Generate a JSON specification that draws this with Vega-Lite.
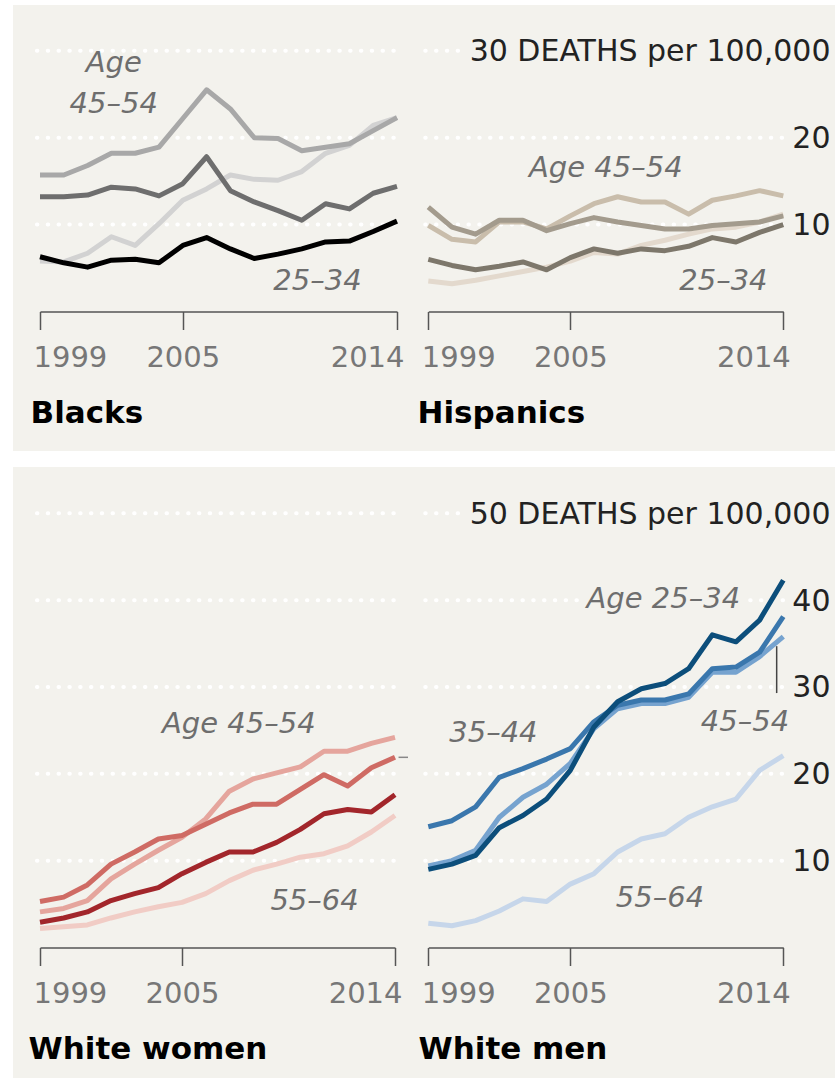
{
"$schema":"https://vega.github.io/schema/vega-lite/v6.json",
"background":"white",
"padding":{"left":13,"top":5,"right":0,"bottom":0},
"config":{
 "view":{"fill":"#f3f2ed","stroke":null},
 "axis":{"domainColor":"#555","domainWidth":1.5,"tickColor":"#555","tickWidth":1.5,"grid":false,"labelFont":"DejaVu Sans","labelFontSize":29,"labelColor":"#777","titleFont":"DejaVu Sans","titleFontSize":31,"titleFontWeight":"bold","titleColor":"#000"},
 "axisX":{"tickSize":18,"labelPadding":37,"labelBaseline":"alphabetic","labelFlush":true,"labelFlushOffset":7,"labelAngle":0,"titleAnchor":"start","titleAlign":"left","titleBaseline":"alphabetic","titleY":111},
 "axisY":{"domain":false,"ticks":false,"tickSize":0,"labelAlign":"right","labelBaseline":"alphabetic","labelOffset":10,"labelColor":"#222","labelFontSize":30,"labelPadding":0,"labelLimit":0,"offset":-5,"title":null},
 "text":{"font":"DejaVu Sans","fontStyle":"italic","fontSize":29,"fill":"#6e6e6e","align":"center","baseline":"alphabetic"}
},
"datasets":{
"lines":[
{"p":"B","a":"55–64","x":1999,"v":5.8},{"p":"B","a":"55–64","x":2000,"v":5.7},{"p":"B","a":"55–64","x":2001,"v":6.7},{"p":"B","a":"55–64","x":2002,"v":8.6},{"p":"B","a":"55–64","x":2003,"v":7.6},{"p":"B","a":"55–64","x":2004,"v":10.1},{"p":"B","a":"55–64","x":2005,"v":12.8},{"p":"B","a":"55–64","x":2006,"v":14.1},{"p":"B","a":"55–64","x":2007,"v":15.7},{"p":"B","a":"55–64","x":2008,"v":15.2},{"p":"B","a":"55–64","x":2009,"v":15.1},{"p":"B","a":"55–64","x":2010,"v":16.1},{"p":"B","a":"55–64","x":2011,"v":18.2},{"p":"B","a":"55–64","x":2012,"v":19.1},{"p":"B","a":"55–64","x":2013,"v":21.4},{"p":"B","a":"55–64","x":2014,"v":22.3},
{"p":"B","a":"45–54","x":1999,"v":15.7},{"p":"B","a":"45–54","x":2000,"v":15.7},{"p":"B","a":"45–54","x":2001,"v":16.8},{"p":"B","a":"45–54","x":2002,"v":18.2},{"p":"B","a":"45–54","x":2003,"v":18.2},{"p":"B","a":"45–54","x":2004,"v":18.9},{"p":"B","a":"45–54","x":2005,"v":22.2},{"p":"B","a":"45–54","x":2006,"v":25.5},{"p":"B","a":"45–54","x":2007,"v":23.3},{"p":"B","a":"45–54","x":2008,"v":20.0},{"p":"B","a":"45–54","x":2009,"v":19.9},{"p":"B","a":"45–54","x":2010,"v":18.5},{"p":"B","a":"45–54","x":2011,"v":18.9},{"p":"B","a":"45–54","x":2012,"v":19.3},{"p":"B","a":"45–54","x":2013,"v":20.8},{"p":"B","a":"45–54","x":2014,"v":22.3},
{"p":"B","a":"35–44","x":1999,"v":13.2},{"p":"B","a":"35–44","x":2000,"v":13.2},{"p":"B","a":"35–44","x":2001,"v":13.4},{"p":"B","a":"35–44","x":2002,"v":14.3},{"p":"B","a":"35–44","x":2003,"v":14.1},{"p":"B","a":"35–44","x":2004,"v":13.3},{"p":"B","a":"35–44","x":2005,"v":14.7},{"p":"B","a":"35–44","x":2006,"v":17.8},{"p":"B","a":"35–44","x":2007,"v":13.9},{"p":"B","a":"35–44","x":2008,"v":12.6},{"p":"B","a":"35–44","x":2009,"v":11.6},{"p":"B","a":"35–44","x":2010,"v":10.5},{"p":"B","a":"35–44","x":2011,"v":12.4},{"p":"B","a":"35–44","x":2012,"v":11.8},{"p":"B","a":"35–44","x":2013,"v":13.6},{"p":"B","a":"35–44","x":2014,"v":14.4},
{"p":"B","a":"25–34","x":1999,"v":6.3},{"p":"B","a":"25–34","x":2000,"v":5.6},{"p":"B","a":"25–34","x":2001,"v":5.1},{"p":"B","a":"25–34","x":2002,"v":5.9},{"p":"B","a":"25–34","x":2003,"v":6.0},{"p":"B","a":"25–34","x":2004,"v":5.6},{"p":"B","a":"25–34","x":2005,"v":7.6},{"p":"B","a":"25–34","x":2006,"v":8.5},{"p":"B","a":"25–34","x":2007,"v":7.2},{"p":"B","a":"25–34","x":2008,"v":6.1},{"p":"B","a":"25–34","x":2009,"v":6.6},{"p":"B","a":"25–34","x":2010,"v":7.2},{"p":"B","a":"25–34","x":2011,"v":8.0},{"p":"B","a":"25–34","x":2012,"v":8.1},{"p":"B","a":"25–34","x":2013,"v":9.2},{"p":"B","a":"25–34","x":2014,"v":10.4},
{"p":"H","a":"55–64","x":1999,"v":3.5},{"p":"H","a":"55–64","x":2000,"v":3.2},{"p":"H","a":"55–64","x":2001,"v":3.6},{"p":"H","a":"55–64","x":2002,"v":4.1},{"p":"H","a":"55–64","x":2003,"v":4.6},{"p":"H","a":"55–64","x":2004,"v":5.1},{"p":"H","a":"55–64","x":2005,"v":5.8},{"p":"H","a":"55–64","x":2006,"v":6.8},{"p":"H","a":"55–64","x":2007,"v":6.6},{"p":"H","a":"55–64","x":2008,"v":7.6},{"p":"H","a":"55–64","x":2009,"v":8.2},{"p":"H","a":"55–64","x":2010,"v":8.9},{"p":"H","a":"55–64","x":2011,"v":9.5},{"p":"H","a":"55–64","x":2012,"v":9.7},{"p":"H","a":"55–64","x":2013,"v":10.3},{"p":"H","a":"55–64","x":2014,"v":11.2},
{"p":"H","a":"45–54","x":1999,"v":9.9},{"p":"H","a":"45–54","x":2000,"v":8.3},{"p":"H","a":"45–54","x":2001,"v":8.0},{"p":"H","a":"45–54","x":2002,"v":10.3},{"p":"H","a":"45–54","x":2003,"v":10.3},{"p":"H","a":"45–54","x":2004,"v":9.5},{"p":"H","a":"45–54","x":2005,"v":11.0},{"p":"H","a":"45–54","x":2006,"v":12.4},{"p":"H","a":"45–54","x":2007,"v":13.2},{"p":"H","a":"45–54","x":2008,"v":12.6},{"p":"H","a":"45–54","x":2009,"v":12.6},{"p":"H","a":"45–54","x":2010,"v":11.2},{"p":"H","a":"45–54","x":2011,"v":12.8},{"p":"H","a":"45–54","x":2012,"v":13.3},{"p":"H","a":"45–54","x":2013,"v":13.9},{"p":"H","a":"45–54","x":2014,"v":13.3},
{"p":"H","a":"35–44","x":1999,"v":12.0},{"p":"H","a":"35–44","x":2000,"v":9.7},{"p":"H","a":"35–44","x":2001,"v":8.9},{"p":"H","a":"35–44","x":2002,"v":10.5},{"p":"H","a":"35–44","x":2003,"v":10.5},{"p":"H","a":"35–44","x":2004,"v":9.3},{"p":"H","a":"35–44","x":2005,"v":10.1},{"p":"H","a":"35–44","x":2006,"v":10.8},{"p":"H","a":"35–44","x":2007,"v":10.3},{"p":"H","a":"35–44","x":2008,"v":9.9},{"p":"H","a":"35–44","x":2009,"v":9.5},{"p":"H","a":"35–44","x":2010,"v":9.5},{"p":"H","a":"35–44","x":2011,"v":9.9},{"p":"H","a":"35–44","x":2012,"v":10.1},{"p":"H","a":"35–44","x":2013,"v":10.3},{"p":"H","a":"35–44","x":2014,"v":11.0},
{"p":"H","a":"25–34","x":1999,"v":6.0},{"p":"H","a":"25–34","x":2000,"v":5.3},{"p":"H","a":"25–34","x":2001,"v":4.8},{"p":"H","a":"25–34","x":2002,"v":5.2},{"p":"H","a":"25–34","x":2003,"v":5.7},{"p":"H","a":"25–34","x":2004,"v":4.8},{"p":"H","a":"25–34","x":2005,"v":6.2},{"p":"H","a":"25–34","x":2006,"v":7.2},{"p":"H","a":"25–34","x":2007,"v":6.7},{"p":"H","a":"25–34","x":2008,"v":7.2},{"p":"H","a":"25–34","x":2009,"v":7.0},{"p":"H","a":"25–34","x":2010,"v":7.5},{"p":"H","a":"25–34","x":2011,"v":8.5},{"p":"H","a":"25–34","x":2012,"v":8.0},{"p":"H","a":"25–34","x":2013,"v":9.1},{"p":"H","a":"25–34","x":2014,"v":10.0},
{"p":"WW","a":"55–64","x":1999,"v":2.2},{"p":"WW","a":"55–64","x":2000,"v":2.4},{"p":"WW","a":"55–64","x":2001,"v":2.6},{"p":"WW","a":"55–64","x":2002,"v":3.4},{"p":"WW","a":"55–64","x":2003,"v":4.1},{"p":"WW","a":"55–64","x":2004,"v":4.7},{"p":"WW","a":"55–64","x":2005,"v":5.2},{"p":"WW","a":"55–64","x":2006,"v":6.2},{"p":"WW","a":"55–64","x":2007,"v":7.7},{"p":"WW","a":"55–64","x":2008,"v":8.9},{"p":"WW","a":"55–64","x":2009,"v":9.6},{"p":"WW","a":"55–64","x":2010,"v":10.4},{"p":"WW","a":"55–64","x":2011,"v":10.8},{"p":"WW","a":"55–64","x":2012,"v":11.7},{"p":"WW","a":"55–64","x":2013,"v":13.3},{"p":"WW","a":"55–64","x":2014,"v":15.2},
{"p":"WW","a":"45–54","x":1999,"v":4.1},{"p":"WW","a":"45–54","x":2000,"v":4.5},{"p":"WW","a":"45–54","x":2001,"v":5.4},{"p":"WW","a":"45–54","x":2002,"v":7.9},{"p":"WW","a":"45–54","x":2003,"v":9.6},{"p":"WW","a":"45–54","x":2004,"v":11.2},{"p":"WW","a":"45–54","x":2005,"v":12.7},{"p":"WW","a":"45–54","x":2006,"v":14.8},{"p":"WW","a":"45–54","x":2007,"v":18.0},{"p":"WW","a":"45–54","x":2008,"v":19.4},{"p":"WW","a":"45–54","x":2009,"v":20.1},{"p":"WW","a":"45–54","x":2010,"v":20.8},{"p":"WW","a":"45–54","x":2011,"v":22.6},{"p":"WW","a":"45–54","x":2012,"v":22.6},{"p":"WW","a":"45–54","x":2013,"v":23.5},{"p":"WW","a":"45–54","x":2014,"v":24.2},
{"p":"WW","a":"35–44","x":1999,"v":5.3},{"p":"WW","a":"35–44","x":2000,"v":5.8},{"p":"WW","a":"35–44","x":2001,"v":7.2},{"p":"WW","a":"35–44","x":2002,"v":9.6},{"p":"WW","a":"35–44","x":2003,"v":11.0},{"p":"WW","a":"35–44","x":2004,"v":12.5},{"p":"WW","a":"35–44","x":2005,"v":12.9},{"p":"WW","a":"35–44","x":2006,"v":14.2},{"p":"WW","a":"35–44","x":2007,"v":15.5},{"p":"WW","a":"35–44","x":2008,"v":16.5},{"p":"WW","a":"35–44","x":2009,"v":16.5},{"p":"WW","a":"35–44","x":2010,"v":18.2},{"p":"WW","a":"35–44","x":2011,"v":19.9},{"p":"WW","a":"35–44","x":2012,"v":18.6},{"p":"WW","a":"35–44","x":2013,"v":20.7},{"p":"WW","a":"35–44","x":2014,"v":21.9},
{"p":"WW","a":"25–34","x":1999,"v":2.9},{"p":"WW","a":"25–34","x":2000,"v":3.4},{"p":"WW","a":"25–34","x":2001,"v":4.1},{"p":"WW","a":"25–34","x":2002,"v":5.4},{"p":"WW","a":"25–34","x":2003,"v":6.2},{"p":"WW","a":"25–34","x":2004,"v":6.9},{"p":"WW","a":"25–34","x":2005,"v":8.5},{"p":"WW","a":"25–34","x":2006,"v":9.8},{"p":"WW","a":"25–34","x":2007,"v":11.0},{"p":"WW","a":"25–34","x":2008,"v":11.0},{"p":"WW","a":"25–34","x":2009,"v":12.1},{"p":"WW","a":"25–34","x":2010,"v":13.6},{"p":"WW","a":"25–34","x":2011,"v":15.4},{"p":"WW","a":"25–34","x":2012,"v":15.9},{"p":"WW","a":"25–34","x":2013,"v":15.6},{"p":"WW","a":"25–34","x":2014,"v":17.6},
{"p":"WM","a":"55–64","x":1999,"v":2.8},{"p":"WM","a":"55–64","x":2000,"v":2.5},{"p":"WM","a":"55–64","x":2001,"v":3.1},{"p":"WM","a":"55–64","x":2002,"v":4.2},{"p":"WM","a":"55–64","x":2003,"v":5.6},{"p":"WM","a":"55–64","x":2004,"v":5.3},{"p":"WM","a":"55–64","x":2005,"v":7.3},{"p":"WM","a":"55–64","x":2006,"v":8.5},{"p":"WM","a":"55–64","x":2007,"v":11.0},{"p":"WM","a":"55–64","x":2008,"v":12.5},{"p":"WM","a":"55–64","x":2009,"v":13.1},{"p":"WM","a":"55–64","x":2010,"v":15.0},{"p":"WM","a":"55–64","x":2011,"v":16.2},{"p":"WM","a":"55–64","x":2012,"v":17.1},{"p":"WM","a":"55–64","x":2013,"v":20.4},{"p":"WM","a":"55–64","x":2014,"v":22.1},
{"p":"WM","a":"45–54","x":1999,"v":9.4},{"p":"WM","a":"45–54","x":2000,"v":10.0},{"p":"WM","a":"45–54","x":2001,"v":11.2},{"p":"WM","a":"45–54","x":2002,"v":15.0},{"p":"WM","a":"45–54","x":2003,"v":17.3},{"p":"WM","a":"45–54","x":2004,"v":18.8},{"p":"WM","a":"45–54","x":2005,"v":21.2},{"p":"WM","a":"45–54","x":2006,"v":25.2},{"p":"WM","a":"45–54","x":2007,"v":27.5},{"p":"WM","a":"45–54","x":2008,"v":28.1},{"p":"WM","a":"45–54","x":2009,"v":28.1},{"p":"WM","a":"45–54","x":2010,"v":28.8},{"p":"WM","a":"45–54","x":2011,"v":31.7},{"p":"WM","a":"45–54","x":2012,"v":31.7},{"p":"WM","a":"45–54","x":2013,"v":33.5},{"p":"WM","a":"45–54","x":2014,"v":35.8},
{"p":"WM","a":"35–44","x":1999,"v":13.9},{"p":"WM","a":"35–44","x":2000,"v":14.6},{"p":"WM","a":"35–44","x":2001,"v":16.2},{"p":"WM","a":"35–44","x":2002,"v":19.6},{"p":"WM","a":"35–44","x":2003,"v":20.6},{"p":"WM","a":"35–44","x":2004,"v":21.7},{"p":"WM","a":"35–44","x":2005,"v":22.9},{"p":"WM","a":"35–44","x":2006,"v":26.0},{"p":"WM","a":"35–44","x":2007,"v":27.9},{"p":"WM","a":"35–44","x":2008,"v":28.5},{"p":"WM","a":"35–44","x":2009,"v":28.5},{"p":"WM","a":"35–44","x":2010,"v":29.2},{"p":"WM","a":"35–44","x":2011,"v":32.1},{"p":"WM","a":"35–44","x":2012,"v":32.3},{"p":"WM","a":"35–44","x":2013,"v":34.0},{"p":"WM","a":"35–44","x":2014,"v":38.1},
{"p":"WM","a":"25–34","x":1999,"v":9.0},{"p":"WM","a":"25–34","x":2000,"v":9.6},{"p":"WM","a":"25–34","x":2001,"v":10.6},{"p":"WM","a":"25–34","x":2002,"v":13.8},{"p":"WM","a":"25–34","x":2003,"v":15.2},{"p":"WM","a":"25–34","x":2004,"v":17.1},{"p":"WM","a":"25–34","x":2005,"v":20.4},{"p":"WM","a":"25–34","x":2006,"v":25.4},{"p":"WM","a":"25–34","x":2007,"v":28.3},{"p":"WM","a":"25–34","x":2008,"v":29.8},{"p":"WM","a":"25–34","x":2009,"v":30.4},{"p":"WM","a":"25–34","x":2010,"v":32.1},{"p":"WM","a":"25–34","x":2011,"v":36.0},{"p":"WM","a":"25–34","x":2012,"v":35.2},{"p":"WM","a":"25–34","x":2013,"v":37.7},{"p":"WM","a":"25–34","x":2014,"v":42.3}
],
"grid":[
{"p":"B","x":1998.87,"x2":2014.13,"v":10},{"p":"B","x":1998.87,"x2":2014.13,"v":20},{"p":"B","x":1998.87,"x2":2014.13,"v":30},
{"p":"H","x":1998.87,"x2":2014.1,"v":10},{"p":"H","x":1998.87,"x2":2014.1,"v":20},{"p":"H","x":1998.87,"x2":2000.6,"v":30},
{"p":"WW","x":1998.87,"x2":2014.13,"v":10},{"p":"WW","x":1998.87,"x2":2014.13,"v":20},{"p":"WW","x":1998.87,"x2":2014.13,"v":30},{"p":"WW","x":1998.87,"x2":2014.13,"v":40},{"p":"WW","x":1998.87,"x2":2014.13,"v":50},
{"p":"WM","x":1998.87,"x2":2014.1,"v":10},{"p":"WM","x":1998.87,"x2":2014.1,"v":20},{"p":"WM","x":1998.87,"x2":2014.1,"v":30},{"p":"WM","x":1998.87,"x2":2005.3,"v":40},{"p":"WM","x":2012.6,"x2":2014.1,"v":40},{"p":"WM","x":1998.87,"x2":2000.5,"v":50}
],
"notes":[
{"p":"B","x":2002.1,"v":27.6,"t":"Age"},{"p":"B","x":2002.1,"v":22.8,"t":"45–54"},{"p":"B","x":2010.66,"v":2.5,"t":"25–34"},
{"p":"H","x":2006.5,"v":15.5,"t":"Age 45–54"},{"p":"H","x":2011.47,"v":2.5,"t":"25–34"},
{"p":"WW","x":2007.4,"v":24.7,"t":"Age 45–54"},{"p":"WW","x":2010.6,"v":4.3,"t":"55–64"},
{"p":"WM","x":2008.93,"v":39.1,"t":"Age 25–34"},{"p":"WM","x":2001.75,"v":23.7,"t":"35–44"},{"p":"WM","x":2012.38,"v":24.9,"t":"45–54"},{"p":"WM","x":2008.79,"v":4.7,"t":"55–64"}
],
"leaders":[
{"p":"WM","x":2013.72,"x2":2013.72,"v":34.7,"v2":29.3},
{"p":"WW","x":2014.15,"x2":2014.55,"v":21.9,"v2":21.9}
]
},
"vconcat":[
 {"hconcat":[
  {"width":400,"height":446,
   "encoding":{
    "x":{"field":"x","type":"quantitative","scale":{"domain":[1999,2014],"range":[27,384],"nice":false,"zero":false},"axis":{"values":[1999,2005,2014],"format":"d","title":"Blacks","titleX":17,"offset":-139.5}},
    "y":{"field":"v","type":"quantitative","scale":{"domain":[0,30],"range":[306.5,45.7],"nice":false,"zero":false},"axis":null}},
   "layer":[
    {"data":{"name":"grid"},"transform":[{"filter":"datum.p == 'B'"}],"mark":{"type":"rule","color":"white","strokeWidth":4,"strokeCap":"round","strokeDash":[0.5,10.3]},"encoding":{"x2":{"field":"x2"}}},
    {"data":{"name":"lines"},"transform":[{"filter":"datum.p == 'B'"}],"mark":{"type":"line","strokeWidth":5,"strokeJoin":"round"},"encoding":{"color":{"field":"a","type":"nominal","scale":{"domain":["25–34","35–44","45–54","55–64"],"range":["#000000","#6e6e6e","#a8a8a8","#d2d2d2"]},"legend":null}}},
    {"data":{"name":"notes"},"transform":[{"filter":"datum.p == 'B'"}],"mark":{"type":"text"},"encoding":{"text":{"field":"t"}}}
   ]},
  {"width":422,"height":446,
   "encoding":{
    "x":{"field":"x","type":"quantitative","scale":{"domain":[1999,2014],"range":[15.3,370.3],"nice":false,"zero":false},"axis":{"values":[1999,2005,2014],"format":"d","title":"Hispanics","titleX":4,"offset":-139.5}},
    "y":{"field":"v","type":"quantitative","scale":{"domain":[0,30],"range":[306.5,45.7],"nice":false,"zero":false},"axis":{"orient":"right","values":[10,20,30],"labelExpr":"datum.value == 30 ? '30 DEATHS per 100,000' : datum.label"}}},
   "layer":[
    {"data":{"name":"grid"},"transform":[{"filter":"datum.p == 'H'"}],"mark":{"type":"rule","color":"white","strokeWidth":4,"strokeCap":"round","strokeDash":[0.5,10.3]},"encoding":{"x2":{"field":"x2"}}},
    {"data":{"name":"lines"},"transform":[{"filter":"datum.p == 'H'"}],"mark":{"type":"line","strokeWidth":5,"strokeJoin":"round"},"encoding":{"color":{"field":"a","type":"nominal","scale":{"domain":["25–34","35–44","45–54","55–64"],"range":["#7d776b","#a39b8d","#c9bdab","#e3d9cd"]},"legend":null}}},
    {"data":{"name":"notes"},"transform":[{"filter":"datum.p == 'H'"}],"mark":{"type":"text"},"encoding":{"text":{"field":"t"}}}
   ]}
 ],"spacing":0,"bounds":"flush","resolve":{"scale":{"x":"independent","y":"independent","color":"independent"}}},
 {"hconcat":[
  {"width":400,"height":611,
   "encoding":{
    "x":{"field":"x","type":"quantitative","scale":{"domain":[1999,2014],"range":[27,382],"nice":false,"zero":false},"axis":{"values":[1999,2005,2014],"format":"d","title":"White women","titleX":15,"offset":-130.5}},
    "y":{"field":"v","type":"quantitative","scale":{"domain":[0,50],"range":[480.5,46.3],"nice":false,"zero":false},"axis":null}},
   "layer":[
    {"data":{"name":"grid"},"transform":[{"filter":"datum.p == 'WW'"}],"mark":{"type":"rule","color":"white","strokeWidth":4,"strokeCap":"round","strokeDash":[0.5,10.3]},"encoding":{"x2":{"field":"x2"}}},
    {"data":{"name":"lines"},"transform":[{"filter":"datum.p == 'WW'"}],"mark":{"type":"line","strokeWidth":5,"strokeJoin":"round"},"encoding":{"color":{"field":"a","type":"nominal","scale":{"domain":["25–34","35–44","45–54","55–64"],"range":["#a2262b","#cf6b64","#e5a59d","#f1ccc5"]},"legend":null}}},
    {"data":{"name":"leaders"},"transform":[{"filter":"datum.p == 'WW'"}],"mark":{"type":"rule","color":"#888","strokeWidth":1.5},"encoding":{"x2":{"field":"x2"},"y2":{"field":"v2"}}},
    {"data":{"name":"notes"},"transform":[{"filter":"datum.p == 'WW'"}],"mark":{"type":"text"},"encoding":{"text":{"field":"t"}}}
   ]},
  {"width":422,"height":611,
   "encoding":{
    "x":{"field":"x","type":"quantitative","scale":{"domain":[1999,2014],"range":[15.3,370.3],"nice":false,"zero":false},"axis":{"values":[1999,2005,2014],"format":"d","title":"White men","titleX":5,"offset":-130.5}},
    "y":{"field":"v","type":"quantitative","scale":{"domain":[0,50],"range":[480.5,46.3],"nice":false,"zero":false},"axis":{"orient":"right","values":[10,20,30,40,50],"labelExpr":"datum.value == 50 ? '50 DEATHS per 100,000' : datum.label"}}},
   "layer":[
    {"data":{"name":"grid"},"transform":[{"filter":"datum.p == 'WM'"}],"mark":{"type":"rule","color":"white","strokeWidth":4,"strokeCap":"round","strokeDash":[0.5,10.3]},"encoding":{"x2":{"field":"x2"}}},
    {"data":{"name":"lines"},"transform":[{"filter":"datum.p == 'WM'"}],"mark":{"type":"line","strokeWidth":5,"strokeJoin":"round"},"encoding":{"color":{"field":"a","type":"nominal","scale":{"domain":["25–34","35–44","45–54","55–64"],"range":["#0c4e7b","#3a77ad","#76a3cf","#c6d6ea"]},"legend":null}}},
    {"data":{"name":"leaders"},"transform":[{"filter":"datum.p == 'WM'"}],"mark":{"type":"rule","color":"#444","strokeWidth":1.5},"encoding":{"x2":{"field":"x2"},"y2":{"field":"v2"}}},
    {"data":{"name":"notes"},"transform":[{"filter":"datum.p == 'WM'"}],"mark":{"type":"text"},"encoding":{"text":{"field":"t"}}}
   ]}
 ],"spacing":0,"bounds":"flush","resolve":{"scale":{"x":"independent","y":"independent","color":"independent"}}}
],
"spacing":16,
"resolve":{"scale":{"x":"independent","y":"independent","color":"independent"}}
}
